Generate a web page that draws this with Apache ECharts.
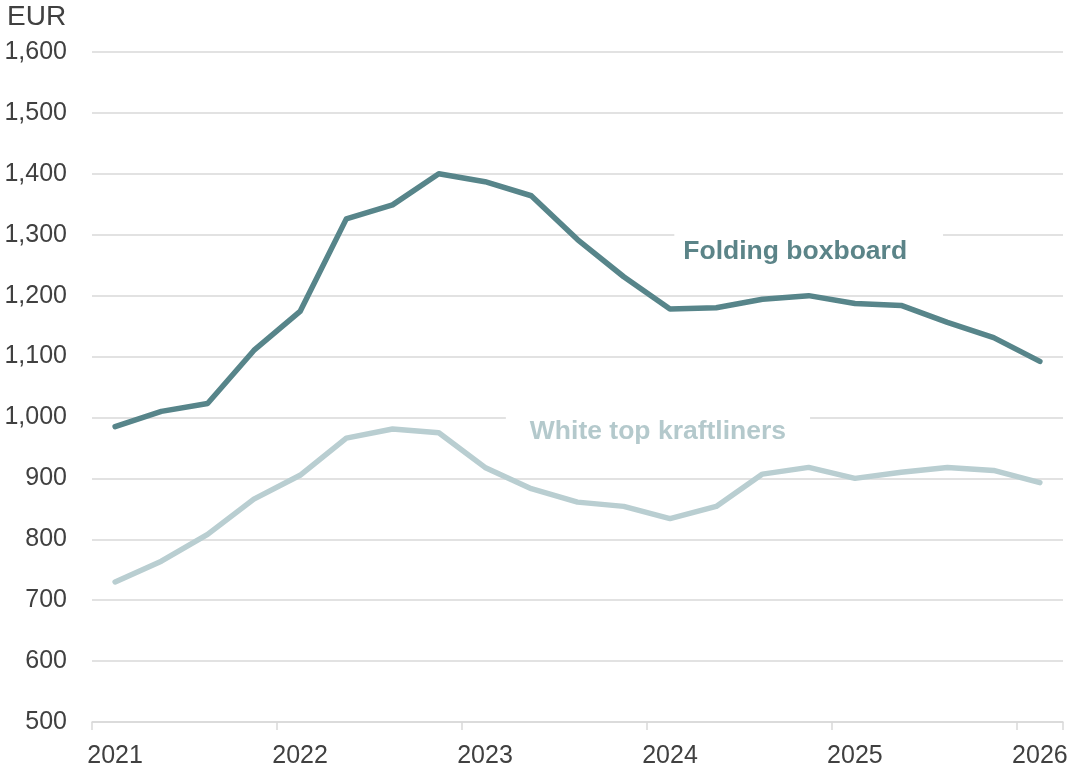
<!DOCTYPE html>
<html>
<head>
<meta charset="utf-8">
<script src="https://cdn.jsdelivr.net/npm/echarts@6/dist/echarts.min.js"></script>
<style>
  html, body { margin: 0; padding: 0; background: #fff; }
  #chart { width: 1071px; height: 769px; }
</style>
</head>
<body>
<div id="chart"></div>
<script>
// Quarterly price points, Q1 2021 to Q1 2026
const quarters = [
  '2021 Q1', '2021 Q2', '2021 Q3', '2021 Q4',
  '2022 Q1', '2022 Q2', '2022 Q3', '2022 Q4',
  '2023 Q1', '2023 Q2', '2023 Q3', '2023 Q4',
  '2024 Q1', '2024 Q2', '2024 Q3', '2024 Q4',
  '2025 Q1', '2025 Q2', '2025 Q3', '2025 Q4',
  '2026 Q1'
];
const foldingBoxboard = [
  985, 1010, 1023, 1110, 1174, 1326, 1349, 1400, 1387, 1364,
  1292, 1231, 1178, 1180, 1194, 1200, 1187, 1184, 1156, 1131, 1092
];
const whiteTopKraftliners = [
  730, 764, 808, 866, 905, 966, 981, 975, 918, 883,
  861, 854, 834, 854, 907, 918, 900, 910, 918, 913, 893
];
const seriesNames = ['Folding boxboard', 'White top kraftliners'];
const unitLabel = 'EUR';

const darkColor = '#57858a';
const lightColor = '#b9ced1';
const textColor = '#404040';
const gridColor = '#d9d9d9';
const fontFamily = '"Liberation Sans", Arial, sans-serif';

const chart = echarts.init(document.getElementById('chart'), null, { renderer: 'canvas' });

const fmt = v => v.toLocaleString('en-US');

chart.setOption({
  animation: false,
  backgroundColor: '#ffffff',
  grid: { left: 92, right: 8, top: 52, bottom: 46, containLabel: false },
  xAxis: {
    type: 'category',
    data: quarters,
    boundaryGap: true,
    axisLine: { lineStyle: { color: gridColor, width: 1.5 } },
    axisTick: { show: true, interval: 3, length: 8, lineStyle: { color: gridColor, width: 1.5 } },
    axisLabel: {
      interval: 3,
      margin: 22,
      color: textColor,
      fontSize: 25,
      fontFamily: fontFamily,
      formatter: v => v.slice(0, 4)
    },
    splitLine: { show: false }
  },
  yAxis: {
    type: 'value',
    min: 500,
    max: 1600,
    interval: 100,
    axisLine: { show: false },
    axisTick: { show: false },
    axisLabel: {
      margin: 25,
      color: textColor,
      fontSize: 25,
      fontFamily: fontFamily,
      formatter: fmt
    },
    splitLine: { lineStyle: { color: gridColor, width: 1.5 } }
  },
  series: [
    {
      name: seriesNames[0],
      type: 'line',
      data: foldingBoxboard,
      symbol: 'none',
      z: 3,
      lineStyle: { color: darkColor, width: 5.5, cap: 'round', join: 'round' }
    },
    {
      name: seriesNames[1],
      type: 'line',
      data: whiteTopKraftliners,
      symbol: 'none',
      z: 3,
      lineStyle: { color: lightColor, width: 5.5, cap: 'round', join: 'round' }
    }
  ]
});

// Pixel position for a fractional category index and a value
function toPixel(idx, value) {
  const i0 = Math.floor(idx);
  const a = chart.convertToPixel({ gridIndex: 0 }, [i0, value]);
  const b = chart.convertToPixel({ gridIndex: 0 }, [i0 + 1, value]);
  const t = idx - i0;
  return [a[0] + (b[0] - a[0]) * t, a[1]];
}

// Series name labels, placed in data space
const labelSpecs = [
  { text: seriesNames[0], at: [15, 1272], color: '#5b8488', padding: [10, 36, 10, 9] },
  { text: seriesNames[1], at: [11.74, 977], color: '#b4c9cc', padding: [10, 24, 10, 24] }
];

const graphics = labelSpecs.map(s => {
  const p = toPixel(s.at[0], s.at[1]);
  return {
    type: 'text',
    x: p[0],
    y: p[1],
    z: 1,
    style: {
      text: s.text,
      fill: s.color,
      font: 'bold 26.5px ' + fontFamily,
      align: 'center',
      verticalAlign: 'middle',
      backgroundColor: '#ffffff',
      padding: s.padding
    }
  };
});

graphics.push({
  type: 'text',
  left: 7,
  top: 3,
  style: {
    text: unitLabel,
    fill: textColor,
    font: '28px ' + fontFamily
  }
});

chart.setOption({ graphic: graphics });
</script>
</body>
</html>
